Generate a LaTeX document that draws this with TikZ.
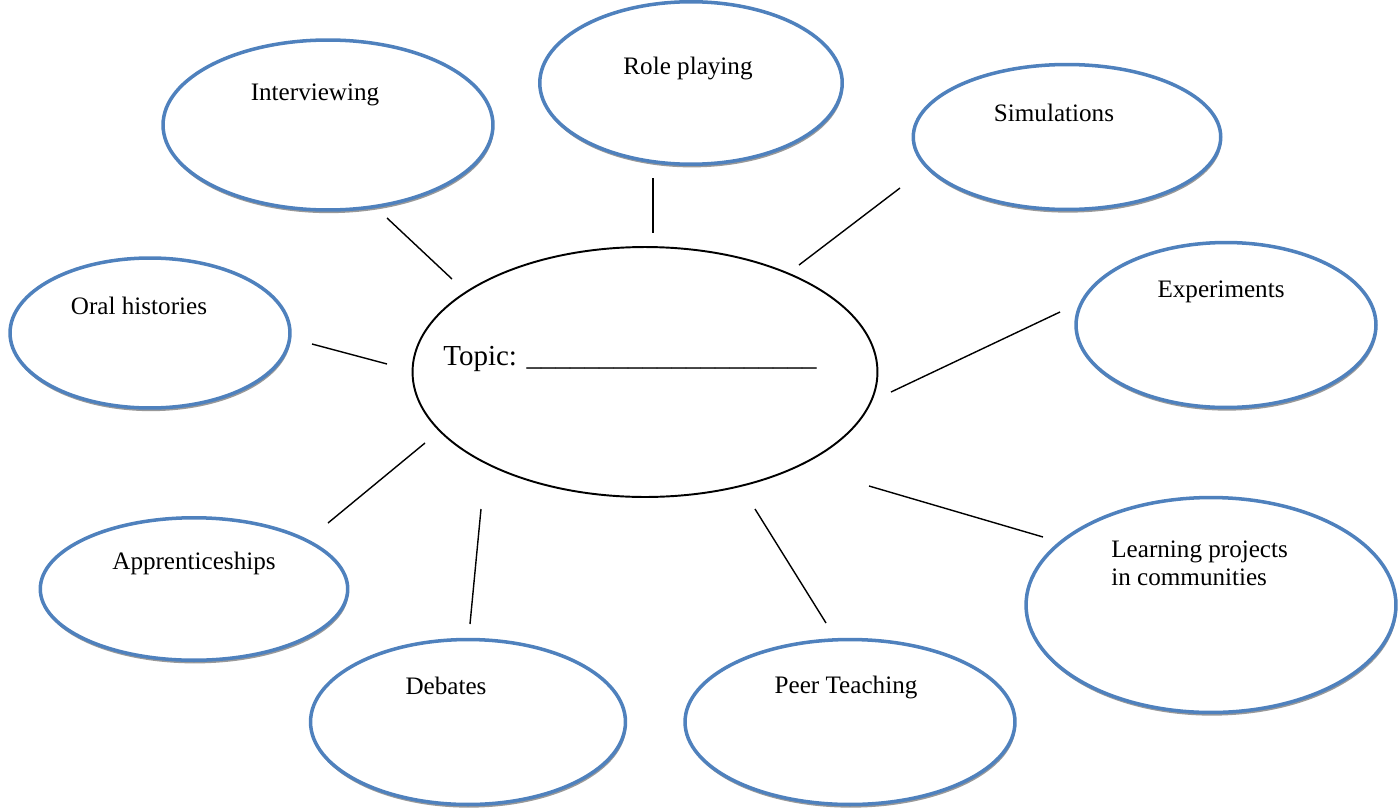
\documentclass[tikz,border=0pt]{standalone}
\usepackage{fontspec}
\setmainfont{Liberation Serif}
\usetikzlibrary{shapes.geometric,shadows}

\definecolor{bubbleblue}{HTML}{4F81BD}
\tikzset{
  bubble/.style={ellipse,draw=bubbleblue,line width=2pt,fill=white,inner sep=0pt,
    drop shadow={shadow xshift=0.5pt,shadow yshift=-1.8pt,fill=black!40,opacity=1}},
  lbl/.style={font=\fontsize{14.3}{16}\selectfont,inner sep=0pt},
  spoke/.style={line width=0.8pt}
}

\begin{document}
\begin{tikzpicture}[x=0.02cm,y=-0.02cm]
	\useasboundingbox (0,0) rectangle (1398,808);
	% the centre
	\node[ellipse,draw,line width=1.1pt,minimum width=9.3cm,minimum height=5cm] (topic) at (645,372) {};
	\node[inner sep=0pt,anchor=west,font=\fontsize{16.5}{19}\selectfont] (topic-t) at (443,359)
		{Topic: \_\_\_\_\_\_\_\_\_\_\_\_\_\_\_\_\_\_\_\_};
	% the bubbles
	\node[bubble,minimum width=6.6cm,minimum height=3.4cm] (interview) at (328,125) {};
	\node[bubble,minimum width=6.05cm,minimum height=3.25cm] (role) at (691,83) {};
	\node[bubble,minimum width=6.15cm,minimum height=2.9cm] (simul) at (1067,137) {};
	\node[bubble,minimum width=5.6cm,minimum height=3cm] (oral) at (150,333) {};
	\node[bubble,minimum width=6cm,minimum height=3.3cm] (exper) at (1226,325) {};
	\node[bubble,minimum width=6.15cm,minimum height=2.85cm] (appren) at (194,589) {};
	\node[bubble,minimum width=6.3cm,minimum height=3.3cm] (debate) at (468,722) {};
	\node[bubble,minimum width=6.6cm,minimum height=3.3cm] (peer) at (850,722) {};
	\node[bubble,minimum width=7.4cm,minimum height=4.3cm] (learn) at (1211,605) {};
	% labels
	\node[lbl] (interview-t) at (315,95) {Interviewing};
	\node[lbl] (role-t) at (688,68) {Role playing};
	\node[lbl] (simul-t) at (1054,113) {Simulations};
	\node[lbl] (oral-t) at (139,306) {Oral histories};
	\node[lbl] (exper-t) at (1221,292) {Experiments};
	\node[lbl] (appren-t) at (194,563) {Apprenticeships};
	\node[lbl] (debate-t) at (446,686) {Debates};
	\node[lbl] (peer-t) at (846,687) {Peer Teaching};
	\node[lbl,align=left,anchor=west] (learn-t) at (1111,563) {Learning projects\\in communities};
	% spokes
	\coordinate (iv-a) at (387,218); \coordinate (iv-b) at (452,279);
	\coordinate (rp-a) at (653,178); \coordinate (rp-b) at (653,233);
	\coordinate (sm-a) at (900,188); \coordinate (sm-b) at (799,265);
	\coordinate (oh-a) at (312,344); \coordinate (oh-b) at (387,364);
	\coordinate (ex-a) at (1060,312); \coordinate (ex-b) at (891,392);
	\coordinate (lp-a) at (1043,537); \coordinate (lp-b) at (869,486);
	\coordinate (pt-a) at (826,623); \coordinate (pt-b) at (755,509);
	\coordinate (db-a) at (470,624); \coordinate (db-b) at (481,509);
	\coordinate (ap-a) at (328,523); \coordinate (ap-b) at (425,443);
	\foreach \s in {iv,rp,sm,oh,ex,lp,pt,db,ap}
		\draw[spoke] (\s-a) -- (\s-b);
\end{tikzpicture}
\end{document}
